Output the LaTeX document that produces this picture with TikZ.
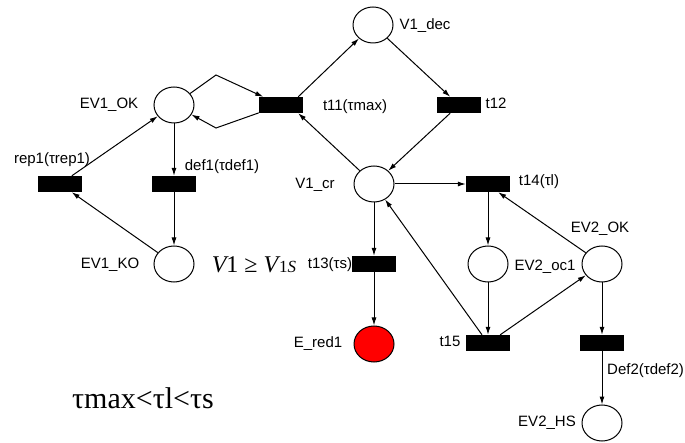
\documentclass[tikz,border=0pt]{standalone}
\usepackage{fontspec}
\setmainfont{Liberation Sans}
\newfontfamily\tnr{Liberation Serif}
\usetikzlibrary{arrows.meta,shapes.geometric}
\begin{document}
\begin{tikzpicture}[x=1pt,y=-1pt,
  place/.style={draw, line width=1pt, ellipse, minimum width=40pt, minimum height=36pt, inner sep=0pt},
  trans/.style={fill=black, draw=none, minimum width=44pt, minimum height=16pt, inner sep=0pt},
  lbl/.style={font=\fontsize{15}{15}\selectfont, inner sep=0pt, text height=11pt, text depth=0pt},
  big/.style={font=\tnr\fontsize{30}{30}\selectfont, inner sep=0pt, text height=19pt, text depth=0pt},
  cnd/.style={font=\tnr\fontsize{24}{24}\selectfont, inner sep=0pt, text height=16pt, text depth=0pt},
  arc/.style={line width=1pt, -{Latex[length=8pt,width=5pt]}}]
\useasboundingbox (0,0) rectangle (685,443);
% places and transitions
\node[place] (ev1ok) at (174,105) {};
\node[place] (ev1ko) at (174,264) {};
\node[trans] (rep1) at (60,184) {};
\node[trans] (def1) at (174,184) {};
\node[trans] (t11) at (281,105) {};
\node[place] (v1dec) at (373,25) {};
\node[trans] (t12) at (459,105) {};
\node[place] (v1cr) at (374,184) {};
\node[trans] (t13) at (374,264) {};
\node[place, fill=red] (ered) at (374,344) {};
\node[trans] (t14) at (488,184) {};
\node[place] (ev2oc) at (488,264) {};
\node[place] (ev2ok) at (602,264) {};
\node[trans] (t15) at (488,343) {};
\node[trans] (def2) at (602,343) {};
\node[place] (ev2hs) at (602,423) {};
\coordinate (b1) at (216,75);
\coordinate (b2) at (216,128);
% arcs
\draw[arc] (rep1) -- (ev1ok);
\draw[arc] (ev1ko) -- (rep1);
\draw[arc] (ev1ok) -- (def1);
\draw[arc] (def1) -- (ev1ko);
\draw[arc] (ev1ok) -- (b1) -- (t11);
\draw[arc] (t11) -- (b2) -- (ev1ok);
\draw[arc] ([xshift=-5pt]t11.north east) -- (v1dec);
\draw[arc] (v1dec) -- (t12);
\draw[arc] (t12) -- (v1cr);
\draw[arc] (v1cr) -- ([xshift=-5pt]t11.south east);
\draw[arc] (v1cr) -- (t14);
\draw[arc] (v1cr) -- (t13);
\draw[arc] (t13) -- (ered);
\draw[arc] (t14) -- (ev2oc);
\draw[arc] (ev2oc) -- (t15);
\draw[arc] ([xshift=-6pt]t15.north) -- (v1cr);
\draw[arc] ([xshift=-10pt]t15.north east) -- (ev2ok);
\draw[arc] (ev2ok) -- ([xshift=-12pt]t14.south east);
\draw[arc] (ev2ok) -- (def2);
\draw[arc] (def2) -- (ev2hs);
% labels
\node[lbl] (l1) at (109,103) {EV1\_OK};
\node[lbl] (l2) at (52,158) {rep1(τrep1)};
\node[lbl] (l3) at (222,165) {def1(τdef1)};
\node[lbl] (l4) at (110,263) {EV1\_KO};
\node[lbl] (l5) at (425,24) {V1\_dec};
\node[lbl] (l6) at (355,105) {t11(τmax)};
\node[lbl] (l7) at (496,103) {t12};
\node[lbl] (l8) at (315,183) {V1\_cr};
\node[lbl] (l9) at (330,263) {t13(τs)};
\node[lbl] (l10) at (318,342) {E\_red1};
\node[lbl] (l11) at (539,180) {t14(τl)};
\node[lbl] (l12) at (600,227) {EV2\_OK};
\node[lbl] (l13) at (545,265) {EV2\_oc1};
\node[lbl] (l14) at (450,341) {t15};
\node[lbl, anchor=west] (l15) at (607,369) {Def2(τdef2)};
\node[lbl] (l16) at (547,421) {EV2\_HS};
\node[cnd] (cond) at (254,265) {\itshape V\upshape 1 ≥ \itshape V\kern1pt{\fontsize{17}{17}\selectfont\upshape 1\itshape S}};
\node[big] (ineq) at (143,399) {τmax<τl<τs};
\end{tikzpicture}
\end{document}
